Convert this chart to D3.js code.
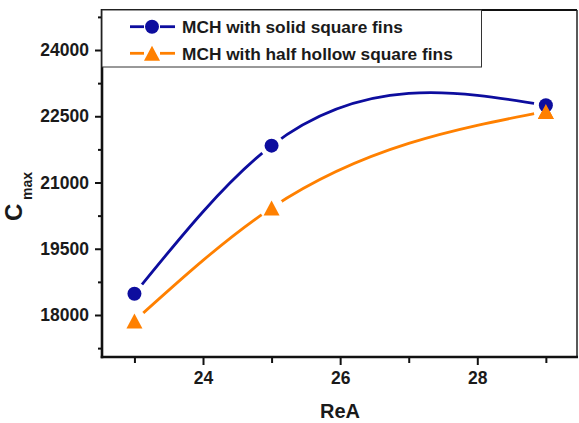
<!DOCTYPE html>
<html>
<head>
<meta charset="utf-8">
<script src="https://cdn.jsdelivr.net/npm/d3@7"></script>
<style>
  html, body { margin: 0; padding: 0; background: #fff; }
  svg { display: block; }
  text { font-family: Arial, "Liberation Sans", sans-serif; font-weight: bold; fill: #1a1a1a; }
</style>
</head>
<body>
<svg id="chart" width="579" height="423"></svg>
<script>
// ReA values and peak concentration for the two fin designs
const reA = [23, 25, 29];
const solidFins = [18480, 21835, 22750];
const hollowFins = [17865, 20425, 22610];

const seriesNames = ["MCH with solid square fins", "MCH with half hollow square fins"];
const seriesColors = ["#0d0d9e", "#ff8000"];

const yMajorTicks = [18000, 19500, 21000, 22500, 24000];
const yMinorTicks = [17250, 18750, 20250, 21750, 23250, 24750];
const xMajorTicks = [24, 26, 28];
const xMinorTicks = [23, 25, 27, 29];

const W = 579, H = 423;
const plot = { left: 102, right: 577, top: 10, bottom: 357 };

const svg = d3.select("#chart");

const x = d3.scaleLinear().domain([22.527, 29.454]).range([plot.left, plot.right]);
const y = d3.scaleLinear().domain([17049, 24906]).range([plot.bottom, plot.top]);

// Natural cubic spline y(x) through the data, emitted as exact Bezier segments
function splinePath(xs, ys) {
  const n = xs.length;
  const h = d3.range(n - 1).map(i => xs[i + 1] - xs[i]);
  const M = new Array(n).fill(0);
  if (n > 2) {
    // tridiagonal system for interior second derivatives
    const a = [], b = [], c = [], r = [];
    for (let i = 1; i < n - 1; i++) {
      a.push(h[i - 1]);
      b.push(2 * (h[i - 1] + h[i]));
      c.push(h[i]);
      r.push(6 * ((ys[i + 1] - ys[i]) / h[i] - (ys[i] - ys[i - 1]) / h[i - 1]));
    }
    const m = b.length;
    for (let i = 1; i < m; i++) {
      const w = a[i] / b[i - 1];
      b[i] -= w * c[i - 1];
      r[i] -= w * r[i - 1];
    }
    const sol = new Array(m);
    sol[m - 1] = r[m - 1] / b[m - 1];
    for (let i = m - 2; i >= 0; i--) sol[i] = (r[i] - c[i] * sol[i + 1]) / b[i];
    for (let i = 0; i < m; i++) M[i + 1] = sol[i];
  }
  const p = d3.path();
  p.moveTo(x(xs[0]), y(ys[0]));
  for (let i = 0; i < n - 1; i++) {
    const hi = h[i], slope = (ys[i + 1] - ys[i]) / hi;
    const d0 = slope - hi * (2 * M[i] + M[i + 1]) / 6;
    const d1 = slope + hi * (M[i] + 2 * M[i + 1]) / 6;
    p.bezierCurveTo(
      x(xs[i] + hi / 3), y(ys[i] + d0 * hi / 3),
      x(xs[i + 1] - hi / 3), y(ys[i + 1] - d1 * hi / 3),
      x(xs[i + 1]), y(ys[i + 1])
    );
  }
  return p.toString();
}

// Marker shapes
const circleR = 7;
const triPath = (cx, cy) => {
  const w = 16, h = 15;
  return `M${cx},${cy - h / 2}L${cx + w / 2},${cy + h / 2}L${cx - w / 2},${cy + h / 2}Z`;
};

// Masks leave a small gap in the line around every marker
const defs = svg.append("defs");
const series = [
  { name: seriesNames[0], values: solidFins, color: seriesColors[0], marker: "circle" },
  { name: seriesNames[1], values: hollowFins, color: seriesColors[1], marker: "triangle" }
];

series.forEach((s, i) => {
  const m = defs.append("mask").attr("id", "gap" + i).attr("maskUnits", "userSpaceOnUse")
    .attr("x", 0).attr("y", 0).attr("width", W).attr("height", H);
  m.append("rect").attr("width", W).attr("height", H).attr("fill", "#fff");
  reA.forEach((r, j) => {
    m.append("circle").attr("cx", x(r)).attr("cy", y(s.values[j])).attr("r", 12).attr("fill", "#000");
  });
});

// Smooth connecting curves
series.forEach((s, i) => {
  svg.append("path")
    .attr("d", splinePath(reA, s.values))
    .attr("fill", "none")
    .attr("stroke", s.color)
    .attr("stroke-width", 2.8)
    .attr("stroke-linecap", "round")
    .attr("mask", `url(#gap${i})`);
});

// Markers: triangles first, circles on top, then the last triangle overlapping its circle
[1, 0].forEach(i => {
  const s = series[i];
  reA.forEach((r, j) => {
    const cx = x(r), cy = y(s.values[j]);
    if (s.marker === "circle") {
      svg.append("circle").attr("cx", cx).attr("cy", cy).attr("r", circleR).attr("fill", s.color);
    } else {
      svg.append("path").attr("d", triPath(cx, cy)).attr("fill", s.color);
    }
  });
});
{
  const j = reA.length - 1;
  svg.append("path").attr("d", triPath(x(reA[j]), y(hollowFins[j]))).attr("fill", seriesColors[1]);
}

// Axes
const yAxis = d3.axisLeft(y).tickValues(yMajorTicks).tickSize(7).tickPadding(6).tickFormat(d3.format("d"));
const yMinor = d3.axisLeft(y).tickValues(yMinorTicks).tickSize(4).tickFormat("");
const xAxis = d3.axisBottom(x).tickValues(xMajorTicks).tickSize(8).tickPadding(7).tickFormat(d3.format("d"));
const xMinor = d3.axisBottom(x).tickValues(xMinorTicks).tickSize(6).tickFormat("");

function styleAxis(g) {
  g.select(".domain").remove();
  g.selectAll(".tick line").attr("stroke", "#111").attr("stroke-width", 2);
  g.selectAll(".tick text").attr("fill", "#1a1a1a").style("font-size", "17.5px")
    .style("font-family", "Arial, 'Liberation Sans', sans-serif").style("font-weight", "bold");
}

svg.append("g").attr("transform", `translate(${plot.left},0)`).call(yAxis).call(styleAxis);
svg.append("g").attr("transform", `translate(${plot.left},0)`).call(yMinor).call(styleAxis);
svg.append("g").attr("transform", `translate(0,${plot.bottom})`).call(xAxis).call(styleAxis);
svg.append("g").attr("transform", `translate(0,${plot.bottom})`).call(xMinor).call(styleAxis);

// Frame
svg.append("line").attr("x1", plot.left).attr("x2", plot.right).attr("y1", plot.top).attr("y2", plot.top)
  .attr("stroke", "#111").attr("stroke-width", 2);
svg.append("line").attr("x1", plot.right).attr("x2", plot.right).attr("y1", plot.top).attr("y2", plot.bottom)
  .attr("stroke", "#222").attr("stroke-width", 1.5);
svg.append("line").attr("x1", plot.left).attr("x2", plot.left).attr("y1", plot.top - 1).attr("y2", plot.bottom + 1.3)
  .attr("stroke", "#111").attr("stroke-width", 2.6);
svg.append("line").attr("x1", plot.left - 1.3).attr("x2", plot.right + 1).attr("y1", plot.bottom).attr("y2", plot.bottom)
  .attr("stroke", "#111").attr("stroke-width", 2.6);

// Legend
const legend = svg.append("g");
legend.append("rect").attr("x", plot.left).attr("y", plot.top).attr("width", 379.5).attr("height", 57)
  .attr("fill", "#fff").attr("stroke", "#333").attr("stroke-width", 1);
const rowY = [26.7, 53.3];
series.forEach((s, i) => {
  const g = legend.append("g");
  const cy = rowY[i], mx = 152;
  g.append("line").attr("x1", 130).attr("x2", 144).attr("y1", cy).attr("y2", cy)
    .attr("stroke", s.color).attr("stroke-width", 2.8);
  g.append("line").attr("x1", 160).attr("x2", 175).attr("y1", cy).attr("y2", cy)
    .attr("stroke", s.color).attr("stroke-width", 2.8);
  if (s.marker === "circle") {
    g.append("circle").attr("cx", mx).attr("cy", cy).attr("r", circleR).attr("fill", s.color);
  } else {
    g.append("path").attr("d", triPath(mx, cy)).attr("fill", s.color);
  }
  g.append("text").attr("x", 182).attr("y", cy + 6.3).style("font-size", "17.3px").text(s.name);
});

// Axis titles
svg.append("text").attr("x", 340).attr("y", 418).attr("text-anchor", "middle")
  .style("font-size", "20px").text("ReA");
svg.append("text").attr("transform", "translate(22,221) rotate(-90)")
  .style("font-size", "24px").text("C");
svg.append("text").attr("transform", "translate(32,200) rotate(-90)")
  .style("font-size", "14px").text("max");
</script>
</body>
</html>
